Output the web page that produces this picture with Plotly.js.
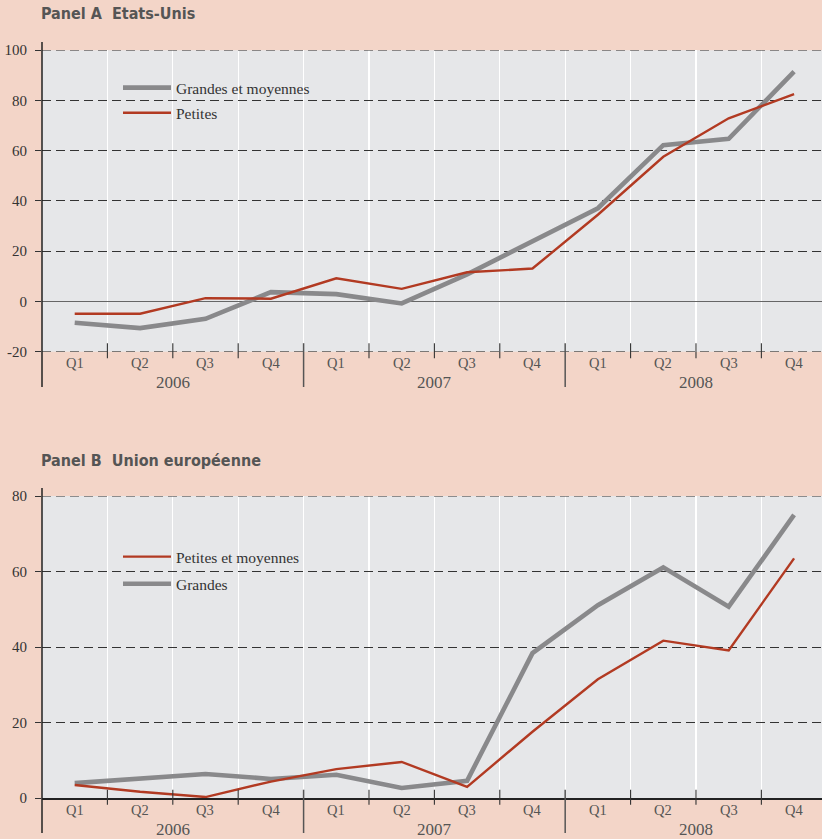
<!DOCTYPE html>
<html><head><meta charset="utf-8">
<script src="https://cdn.plot.ly/plotly-3.0.1.min.js"></script>
<style>html,body{margin:0;padding:0;background:#F3D5C8}</style>
</head><body>
<div id="chart" style="width:822px;height:839px"></div>
<script>
// ---- data ----
const quarters = ['Q1','Q2','Q3','Q4','Q1','Q2','Q3','Q4','Q1','Q2','Q3','Q4'];
const years = ['2006','2007','2008'];
const usLargeMedium = [-8.5,-10.6,-6.9,3.7,2.9,-0.8,10.8,23.8,37.1,62.2,64.7,91.5];
const usSmall       = [-4.9,-4.9,1.3,1.1,9.2,5.0,11.6,13.1,34.5,57.6,72.9,82.5];
const euSmallMedium = [3.5,1.7,0.3,4.4,7.7,9.6,3.0,17.6,31.5,41.7,39.1,63.5];
const euLarge       = [4.0,5.1,6.4,5.1,6.2,2.7,4.6,38.4,51.1,61.1,50.7,75.0];
const yTicksA = [-20, 0, 20, 40, 60, 80, 100];
const yTickTextA = ['-20', '0', '20', '40', '60', '80', '100'];
const yTicksB = [0, 20, 40, 60, 80];
const yTickTextB = ['0', '20', '40', '60', '80'];
const namesA = ['Grandes et moyennes','Petites'];
const namesB = ['Petites et moyennes','Grandes'];
const titleA = 'Panel A  Etats-Unis';
const titleB = 'Panel B  Union européenne';

// ---- helpers ----
const H = 839;
const p = y => 1 - y / H;
const idx = quarters.map((q, i) => i);
const bounds = idx.slice(0, -1).map(i => i + 0.5);
const GRAY = '#89898b', RED = '#b23a22';
const serif = 'Liberation Serif, DejaVu Serif, serif';
const tfont = {family: 'DejaVu Sans Condensed, Liberation Sans Narrow, sans-serif', size: 16, color: '#555', weight: 'bold'};

const tA1 = {x: idx, y: usLargeMedium, name: namesA[0], type: 'scatter', mode: 'lines', xaxis: 'x', yaxis: 'y',
   line: {color: GRAY, width: 4.6}, legend: 'legend', legendgroup: 'a1'};
const tA2 = {x: idx, y: usSmall, name: namesA[1], type: 'scatter', mode: 'lines', xaxis: 'x', yaxis: 'y',
   line: {color: RED, width: 2.4}, legend: 'legend', legendgroup: 'a2'};
const tB1 = {x: idx, y: euSmallMedium, name: namesB[0], type: 'scatter', mode: 'lines', xaxis: 'x2', yaxis: 'y2',
   line: {color: RED, width: 2.4}, legend: 'legend2', legendgroup: 'b1', legendrank: 1};
const tB2 = {x: idx, y: euLarge, name: namesB[1], type: 'scatter', mode: 'lines', xaxis: 'x2', yaxis: 'y2',
   line: {color: GRAY, width: 4.6}, legend: 'legend2', legendgroup: 'b2', legendrank: 2};
const data = [tA1, tA2, tB2, tB1];

const xCommon = {
  range: [-0.5, 11.427], showgrid: false, showticklabels: false, ticks: '', zeroline: false,
  fixedrange: true,
  minor: {tickmode: 'array', tickvals: bounds, showgrid: true, gridcolor: '#ffffff', gridwidth: 1.3, ticks: ''}
};
const yCommon = {
  tickmode: 'array', showgrid: true, gridcolor: '#333', griddash: '9px,5px', gridwidth: 1,
  ticks: 'outside', ticklen: 6, tickcolor: '#333', tickwidth: 1,
  tickfont: {family: serif, size: 15, color: '#333'}, ticklabelstandoff: 5,
  showline: false, fixedrange: true
};

const shapes = [];
const annotations = [];
function panel(xr, yr, yEdges, axisY, lineTop, lineBot, qY, yrY) {
  // dashed lines at the range edges (gridlines are not drawn there)
  yEdges.forEach(v => shapes.push({type: 'line', xref: 'paper', yref: yr, x0: 0, x1: 1, y0: v, y1: v,
    line: {color: '#333', width: 1, dash: '9px,5px'}}));
  // y-axis line
  shapes.push({type: 'line', xref: 'paper', yref: 'paper', x0: 0, x1: 0, y0: p(lineTop), y1: p(lineBot),
    line: {color: '#222', width: 1.5}});
  bounds.forEach(b => {
    const isYear = (b + 0.5) % 4 === 0;
    shapes.push({type: 'line', xref: xr, yref: 'paper', x0: b, x1: b,
      y0: p(axisY - 8.5), y1: p(isYear ? lineBot : axisY + 6.5),
      line: {color: isYear ? '#555' : '#333', width: isYear ? 1.5 : 1.1}});
  });
  quarters.forEach((q, i) => annotations.push({xref: xr, yref: 'paper', x: i, y: p(qY), text: q,
    showarrow: false, xanchor: 'center', yanchor: 'middle', font: {family: serif, size: 14.5, color: '#555'}}));
  years.forEach((yv, k) => annotations.push({xref: xr, yref: 'paper', x: 4 * k + 1.5, y: p(yrY), text: yv,
    showarrow: false, xanchor: 'center', yanchor: 'middle', font: {family: serif, size: 17, color: '#555'}}));
}
panel('x', 'y', [-20, 100], 351.7, 42, 387, 363, 382);
panel('x2', 'y2', [80], 798.2, 488, 833, 810, 829);
annotations.push({xref: 'paper', yref: 'paper', x: -0.004, y: p(14), text: titleA, showarrow: false,
  xanchor: 'left', yanchor: 'middle', font: tfont});
annotations.push({xref: 'paper', yref: 'paper', x: -0.004, y: p(460), text: titleB, showarrow: false,
  xanchor: 'left', yanchor: 'middle', font: tfont});

const legCommon = {xanchor: 'left', yanchor: 'top', bgcolor: 'rgba(0,0,0,0)', borderwidth: 0,
  font: {family: serif, size: 15.5, color: '#333'}, itemwidth: 48, traceorder: 'grouped'};

const layout = {
  width: 822, height: 839, margin: {l: 42, r: 0, t: 0, b: 0, autoexpand: false},
  paper_bgcolor: '#F3D5C8', plot_bgcolor: '#E6E7E9',
  xaxis: Object.assign({}, xCommon, {domain: [0, 1], anchor: 'y', showline: false}),
  yaxis: Object.assign({}, yCommon, {domain: [p(351.7), p(50.2)], range: [-20, 100], anchor: 'x',
    tickvals: yTicksA, ticktext: yTickTextA,
    zeroline: true, zerolinecolor: '#666', zerolinewidth: 1.8}),
  xaxis2: Object.assign({}, xCommon, {domain: [0, 1], anchor: 'y2', showline: true, linecolor: '#222', linewidth: 1.3}),
  yaxis2: Object.assign({}, yCommon, {domain: [p(798.2), p(496)], range: [0, 80], anchor: 'x2',
    tickvals: yTicksB, ticktext: yTickTextB, zeroline: false}),
  legend: Object.assign({}, legCommon, {x: (118 - 42) / 780, y: p(71), tracegroupgap: 2}),
  legend2: Object.assign({}, legCommon, {x: (118 - 42) / 780, y: p(540), tracegroupgap: 4}),
  shapes: shapes, annotations: annotations, hovermode: false
};
Plotly.newPlot('chart', data, layout, {displayModeBar: false, staticPlot: true});
</script>
</body></html>
